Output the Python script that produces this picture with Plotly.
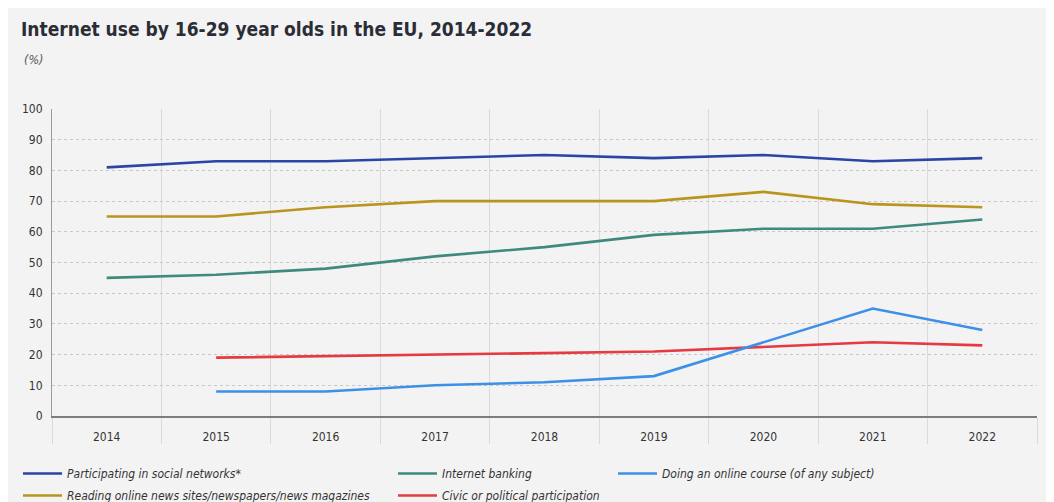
import plotly.graph_objects as go

years = [2014, 2015, 2016, 2017, 2018, 2019, 2020, 2021, 2022]
social = [81, 83, 83, 84, 85, 84, 85, 83, 84]
news = [65, 65, 68, 70, 70, 70, 73, 69, 68]
banking = [45, 46, 48, 52, 55, 59, 61, 61, 64]
civic = [None, 19, None, 20, None, 21, None, 24, 23]
course = [None, 8, 8, 10, 11, 13, None, 35, 28]

names = {
    "social": "Participating in social networks*",
    "news": "Reading online news sites/newspapers/news magazines",
    "banking": "Internet banking",
    "civic": "Civic or political participation",
    "course": "Doing an online course (of any subject)",
}
colors = {
    "social": "#2a45a6",
    "news": "#b9951e",
    "banking": "#3f8a7c",
    "civic": "#e53a3f",
    "course": "#3d90e8",
}
series = [("social", social, "legend"), ("news", news, "legend"),
          ("banking", banking, "legend2"), ("civic", civic, "legend2"),
          ("course", course, "legend3")]

FONT = "DejaVu Sans Condensed, Liberation Sans Narrow, sans-serif"
# the page body has an 8px margin: figure coordinates = page coordinates - 8
W, H = 1054, 502
L, R, T, B = 44, 1029, 101, 408

fig = go.Figure()
for key, vals, lg in series:
    fig.add_trace(go.Scatter(
        x=years, y=vals, mode="lines", name=names[key],
        line=dict(color=colors[key], width=2.6),
        connectgaps=True, legend=lg, legendgroup=key, hoverinfo="skip"))

bounds = [y + 0.5 for y in [2013] + years]
legfont = dict(family=FONT, size=12, color="#333333", style="italic")

def leg(xpix, ytop):
    return dict(x=xpix / W, xref="container", y=1 - ytop / H, yref="container",
                xanchor="left", yanchor="top", orientation="v",
                bgcolor="rgba(0,0,0,0)", font=legfont, tracegroupgap=3, itemwidth=39)

fig.update_layout(
    width=W, height=H,
    margin=dict(l=L, r=W - R, t=T, b=H - B, pad=0, autoexpand=False),
    paper_bgcolor="#f3f3f3", plot_bgcolor="rgba(0,0,0,0)",
    font=dict(family=FONT, size=12, color="#333333"),
    title=dict(text="<b>Internet use by 16-29 year olds in the EU, 2014-2022</b>",
               x=13 / W, xref="container", xanchor="left",
               y=1 - 21 / H, yref="container", yanchor="middle",
               font=dict(family=FONT, size=19, color="#2b2d36")),
    xaxis=dict(range=[2013.5, 2022.5], tickvals=years, ticktext=[str(y) for y in years],
               showgrid=False, zeroline=False, ticks="", showline=True,
               linecolor="#7d7d7d", linewidth=2, ticklabelstandoff=9,
               tickfont=dict(family=FONT, size=12, color="#333333"),
               minor=dict(tickvals=bounds, showgrid=True, gridcolor="#dadada", gridwidth=1,
                          ticks="outside", ticklen=26, tickcolor="#dadada", tickwidth=1),
               fixedrange=True),
    yaxis=dict(range=[0, 100], dtick=10, showgrid=True, gridcolor="#c9c9c9", griddash="dot",
               gridwidth=1, zeroline=False, showline=True, linecolor="#9a9a9a", linewidth=1,
               ticks="", tickfont=dict(family=FONT, size=12, color="#333333"),
               ticklabelstandoff=6, fixedrange=True),
    showlegend=True,
    legend=leg(10, 451),
    legend2=leg(385, 451),
    legend3=leg(605, 451),
    annotations=[dict(text="<i>(%)</i>", xref="paper", yref="paper",
                      x=(14 - L) / (R - L), y=(B - 52) / (B - T),
                      xanchor="left", yanchor="middle", showarrow=False,
                      font=dict(family=FONT, size=12.5, color="#555555"))],
)

fig.write_html("out.html")
